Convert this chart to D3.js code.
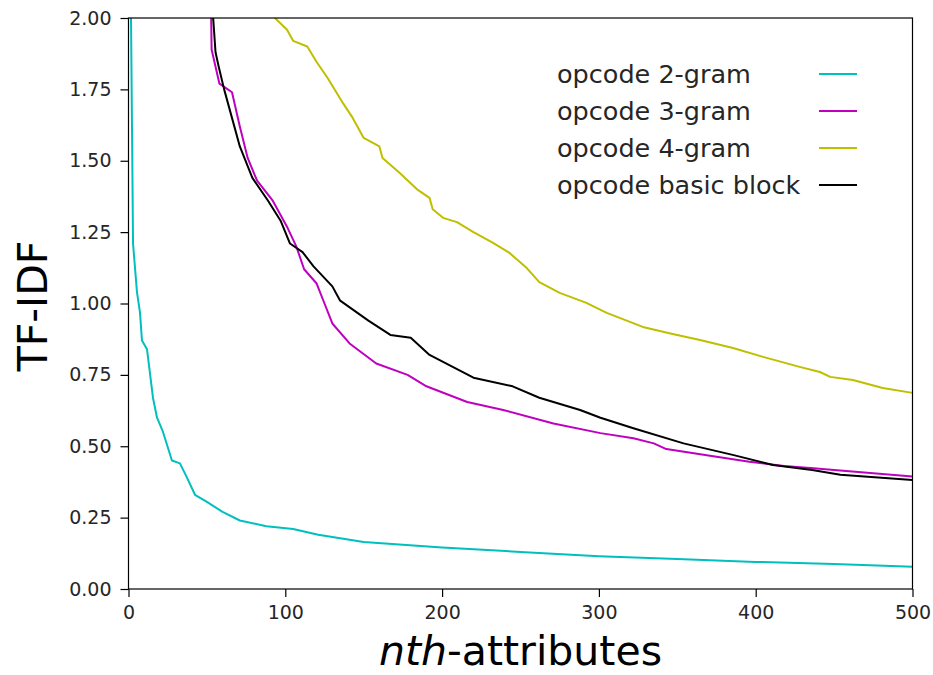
<!DOCTYPE html>
<html>
<head>
<meta charset="utf-8">
<script src="https://cdn.jsdelivr.net/npm/d3@7"></script>
<style>
  body { margin: 0; background: #fff; }
  text { font-family: "DejaVu Sans", sans-serif; fill: #262626; }
</style>
</head>
<body>
<svg id="chart" width="933" height="675"></svg>
<script>
// series values: [rank, tf-idf]
const gram2 = [[0, 3.0], [1.6, 2.0], [2.9, 1.21], [5.4, 1.04], [7.3, 0.97], [8.6, 0.87],
  [11.8, 0.84], [15.6, 0.67], [18.2, 0.60], [22, 0.55], [27.7, 0.45], [32.8, 0.44],
  [37.3, 0.39], [42.4, 0.33], [50, 0.305], [60, 0.27], [71, 0.24], [88, 0.22],
  [105, 0.21], [121, 0.19], [150, 0.165], [200, 0.145], [250, 0.13], [300, 0.115],
  [350, 0.105], [400, 0.095], [450, 0.088], [500, 0.078]];
const gram3 = [[52, 2.3], [53, 1.89], [58, 1.77], [66, 1.74], [71, 1.62], [76, 1.51],
  [82, 1.43], [92, 1.36], [101, 1.27], [107, 1.20], [112, 1.12], [120, 1.07],
  [125, 1.00], [130, 0.93], [141, 0.86], [158, 0.79], [178, 0.75], [190, 0.71],
  [216, 0.655], [239, 0.627], [271, 0.58], [301, 0.546], [322, 0.528], [335, 0.51],
  [343, 0.49], [375, 0.463], [396, 0.446], [418, 0.431], [437, 0.423], [450, 0.417],
  [500, 0.394]];
const gram4 = [[92, 2.05], [93.4, 2.0], [101, 1.96], [105, 1.92], [114, 1.90], [120, 1.846],
  [127, 1.79], [137, 1.70], [143, 1.65], [150, 1.58], [160, 1.55], [162, 1.51],
  [173, 1.457], [184, 1.40], [192, 1.37], [194, 1.33], [200.6, 1.30], [209.5, 1.285],
  [220, 1.25], [232.5, 1.212], [243, 1.177], [254, 1.124], [262, 1.075], [275, 1.037],
  [292, 1.002], [305, 0.967], [328, 0.918], [347, 0.893], [364.5, 0.872], [385.5, 0.844],
  [404.7, 0.813], [428, 0.778], [441, 0.76], [447.5, 0.743], [462, 0.732], [481, 0.704],
  [500, 0.687]];
const basicBlock = [[53.5, 2.3], [54, 2.0], [55.5, 1.88], [57.5, 1.83], [61, 1.75], [67, 1.63],
  [71, 1.55], [79, 1.44], [89, 1.36], [97, 1.29], [103, 1.21], [111, 1.18], [118, 1.13],
  [130, 1.06], [135, 1.01], [153, 0.94], [167, 0.89], [180, 0.88], [192, 0.82],
  [220, 0.74], [245, 0.71], [262, 0.67], [288, 0.627], [301, 0.60], [322, 0.563],
  [354, 0.51], [386, 0.469], [411, 0.434], [436, 0.417], [454, 0.40], [500, 0.382]];

const seriesNames = ["opcode 2-gram", "opcode 3-gram", "opcode 4-gram", "opcode basic block"];
const seriesColors = ["#00bfbf", "#bf00bf", "#bfbf00", "#000000"];
const seriesData = [gram2, gram3, gram4, basicBlock];

const xTicks = [0, 100, 200, 300, 400, 500];
const yTicks = [0, 0.25, 0.5, 0.75, 1.0, 1.25, 1.5, 1.75, 2.0];

const svg = d3.select("#chart");
const plotL = 128.5, plotR = 912.5, plotT = 18, plotB = 589;

const x = d3.scaleLinear().domain([0, 500]).range([plotL, plotR]);
const y = d3.scaleLinear().domain([0, 2]).range([plotB, plotT]);

svg.append("clipPath").attr("id", "plotClip")
  .append("rect")
  .attr("x", plotL).attr("y", plotT)
  .attr("width", plotR - plotL).attr("height", plotB - plotT);

const line = d3.line().x(d => x(d[0])).y(d => y(d[1]));

svg.append("g").attr("clip-path", "url(#plotClip)")
  .selectAll("path")
  .data(seriesData)
  .join("path")
  .attr("d", line)
  .attr("fill", "none")
  .attr("stroke", (d, i) => seriesColors[i])
  .attr("stroke-width", 2)
  .attr("stroke-linejoin", "round");

// axes
const xAxis = svg.append("g")
  .attr("transform", `translate(0,${plotB})`)
  .call(d3.axisBottom(x).tickValues(xTicks).tickSize(8).tickPadding(9));
const yAxis = svg.append("g")
  .attr("transform", `translate(${plotL},0)`)
  .call(d3.axisLeft(y).tickValues(yTicks).tickSize(8).tickPadding(9).tickFormat(d3.format(".2f")));

[xAxis, yAxis].forEach(g => {
  g.select(".domain").remove();
  g.selectAll("line").attr("stroke", "#000").attr("stroke-width", 1.2);
  g.selectAll("text").attr("font-size", 19).attr("fill", "#262626")
    .style("font-family", "'DejaVu Sans', sans-serif");
});

// frame
svg.append("rect")
  .attr("x", plotL).attr("y", plotT)
  .attr("width", plotR - plotL).attr("height", plotB - plotT)
  .attr("fill", "none").attr("stroke", "#000").attr("stroke-width", 1.2);

// axis titles
const xLabel = svg.append("text")
  .attr("x", (plotL + plotR) / 2).attr("y", 665)
  .attr("text-anchor", "middle")
  .attr("font-size", 41)
  .style("fill", "#000");
xLabel.append("tspan").attr("font-style", "italic").text("nth");
xLabel.append("tspan").text("-attributes");

svg.append("text")
  .attr("transform", "translate(47,306) rotate(-90)")
  .attr("text-anchor", "middle")
  .attr("font-size", 41)
  .style("fill", "#000")
  .text("TF-IDF");

// legend, no frame, text first then handle
const legend = svg.append("g")
  .selectAll("g")
  .data(seriesNames)
  .join("g")
  .attr("transform", (d, i) => `translate(0,${74 + i * 37})`);

legend.append("text")
  .attr("x", 557).attr("y", 8.5)
  .attr("font-size", 25.5)
  .style("fill", "#262626")
  .text(d => d);

legend.append("line")
  .attr("x1", 819).attr("x2", 857)
  .attr("y1", 0).attr("y2", 0)
  .attr("stroke", (d, i) => seriesColors[i])
  .attr("stroke-width", 2);
</script>
</body>
</html>
